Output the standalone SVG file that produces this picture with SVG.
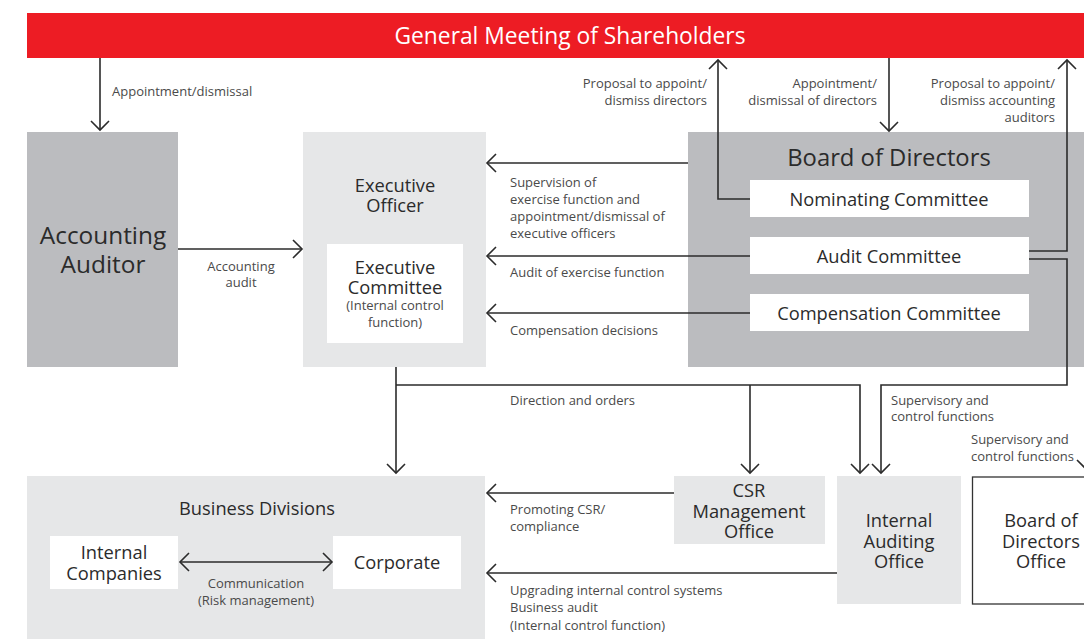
<svg xmlns="http://www.w3.org/2000/svg" width="1084" height="639" viewBox="0 0 1084 639">
<defs>
<style>
.t{font-family:"Open Sans","Noto Sans","Liberation Sans",sans-serif;fill:#2b2b2b;dominant-baseline:central}
.n{font-size:18.3px;text-anchor:middle}
.l{font-size:13px;fill:#4a4a4a}
.r{text-anchor:end}
.c{text-anchor:middle}
.dk{fill:#bbbcbf}
.lt{fill:#e6e7e8}
.wh{fill:#ffffff}
.ln{fill:none;stroke:#2b2b2b;stroke-width:1.6}
.a{marker-end:url(#ah)}
</style>
<marker id="ah" markerUnits="userSpaceOnUse" viewBox="-11 -11 13 22" markerWidth="13" markerHeight="22" refX="0" refY="0" orient="auto-start-reverse">
<path d="M-9,-9 L0,0 L-9,9" fill="none" stroke="#2b2b2b" stroke-width="1.6"/>
</marker>
</defs>
<rect width="1084" height="639" fill="#ffffff"/>

<g id="gms">
<rect x="27" y="13" width="1057" height="45" fill="#ed1c24"/>
<text class="t" x="570" y="35" font-size="22.8" text-anchor="middle" style="fill:#ffffff">General Meeting of Shareholders</text>
</g>

<g id="accounting-auditor">
<rect class="dk" x="27" y="132" width="151" height="235"/>
<text class="t c" font-size="24.4"><tspan x="103" y="234">Accounting</tspan><tspan x="103" y="263">Auditor</tspan></text>
</g>

<g id="executive-officer">
<rect class="lt" x="303" y="132" width="183" height="235"/>
<text class="t n"><tspan x="395" y="183.5">Executive</tspan><tspan x="395" y="204">Officer</tspan></text>
<rect class="wh" x="327" y="244" width="136" height="99"/>
<text class="t n"><tspan x="395" y="265.5">Executive</tspan><tspan x="395" y="286">Committee</tspan></text>
<text class="t l c"><tspan x="395" y="305">(Internal control</tspan><tspan x="395" y="322">function)</tspan></text>
</g>

<g id="board-of-directors">
<rect class="dk" x="688" y="132" width="396" height="235"/>
<text class="t c" x="889" y="157" font-size="23.8">Board of Directors</text>
<rect class="wh" x="750" y="180" width="279" height="37"/>
<text class="t n" x="889" y="198">Nominating Committee</text>
<rect class="wh" x="750" y="237" width="279" height="37"/>
<text class="t n" x="889" y="255">Audit Committee</text>
<rect class="wh" x="750" y="294" width="279" height="37"/>
<text class="t n" x="889" y="312">Compensation Committee</text>
</g>

<g id="business-divisions">
<rect class="lt" x="27" y="476" width="458" height="163"/>
<text class="t n" x="257" y="507">Business Divisions</text>
<rect class="wh" x="50" y="536" width="128" height="53"/>
<text class="t n"><tspan x="114" y="551">Internal</tspan><tspan x="114" y="572">Companies</tspan></text>
<rect class="wh" x="333" y="536" width="128" height="53"/>
<text class="t n" x="397" y="561">Corporate</text>
<text class="t l c"><tspan x="256" y="583">Communication</tspan><tspan x="256" y="600">(Risk management)</tspan></text>
</g>

<g id="csr-office">
<rect class="lt" x="674" y="476" width="151" height="68"/>
<text class="t n"><tspan x="749" y="489">CSR</tspan><tspan x="749" y="510">Management</tspan><tspan x="749" y="530">Office</tspan></text>
</g>

<g id="internal-auditing-office">
<rect class="lt" x="837" y="476" width="124" height="128"/>
<text class="t n"><tspan x="899" y="519">Internal</tspan><tspan x="899" y="540">Auditing</tspan><tspan x="899" y="560">Office</tspan></text>
</g>

<g id="board-office">
<rect x="972.5" y="477" width="120" height="127" fill="#ffffff" stroke="#333333" stroke-width="1.3"/>
<text class="t n"><tspan x="1041" y="519">Board of</tspan><tspan x="1041" y="540">Directors</tspan><tspan x="1041" y="560">Office</tspan></text>
</g>

<g id="connectors">
<path class="ln a" d="M100,58 V130"/>
<path class="ln a" d="M178,249 H302"/>
<path class="ln a" d="M750,199 H718 V60"/>
<path class="ln a" d="M889,58 V131"/>
<path class="ln a" d="M1029,251 H1067 V60"/>
<path class="ln a" d="M1029,259 H1067 V385 H881 V473"/>
<path class="ln a" d="M688,163 H487"/>
<path class="ln a" d="M750,256 H487"/>
<path class="ln a" d="M750,313 H487"/>
<path class="ln a" d="M396,367 V473"/>
<path class="ln a" d="M396,385 H860 V473"/>
<path class="ln a" d="M750,385 V473"/>
<path class="ln a" d="M674,493 H487"/>
<path class="ln a" d="M837,573 H487"/>
<path class="ln a" d="M180,562 H332" style="marker-start:url(#ah)"/>
<path class="ln a" d="M1086,367 V469"/>
</g>

<g id="labels">
<text class="t l" x="112" y="91">Appointment/dismissal</text>
<text class="t l c"><tspan x="241" y="266">Accounting</tspan><tspan x="241" y="282">audit</tspan></text>
<text class="t l r"><tspan x="707" y="83">Proposal to appoint/</tspan><tspan x="707" y="100">dismiss directors</tspan></text>
<text class="t l r"><tspan x="877" y="83">Appointment/</tspan><tspan x="877" y="100">dismissal of directors</tspan></text>
<text class="t l r"><tspan x="1055" y="83">Proposal to appoint/</tspan><tspan x="1055" y="100">dismiss accounting</tspan><tspan x="1055" y="117">auditors</tspan></text>
<text class="t l"><tspan x="510" y="182">Supervision of</tspan><tspan x="510" y="199">exercise function and</tspan><tspan x="510" y="216">appointment/dismissal of</tspan><tspan x="510" y="233">executive officers</tspan></text>
<text class="t l" x="510" y="272">Audit of exercise function</text>
<text class="t l" x="510" y="330">Compensation decisions</text>
<text class="t l" x="510" y="400">Direction and orders</text>
<text class="t l"><tspan x="891" y="400">Supervisory and</tspan><tspan x="891" y="416">control functions</tspan></text>
<text class="t l"><tspan x="971" y="439">Supervisory and</tspan><tspan x="971" y="456">control functions</tspan></text>
<text class="t l"><tspan x="510" y="509">Promoting CSR/</tspan><tspan x="510" y="526">compliance</tspan></text>
<text class="t l"><tspan x="510" y="590">Upgrading internal control systems</tspan><tspan x="510" y="607">Business audit</tspan><tspan x="510" y="625">(Internal control function)</tspan></text>
</g>
</svg>
